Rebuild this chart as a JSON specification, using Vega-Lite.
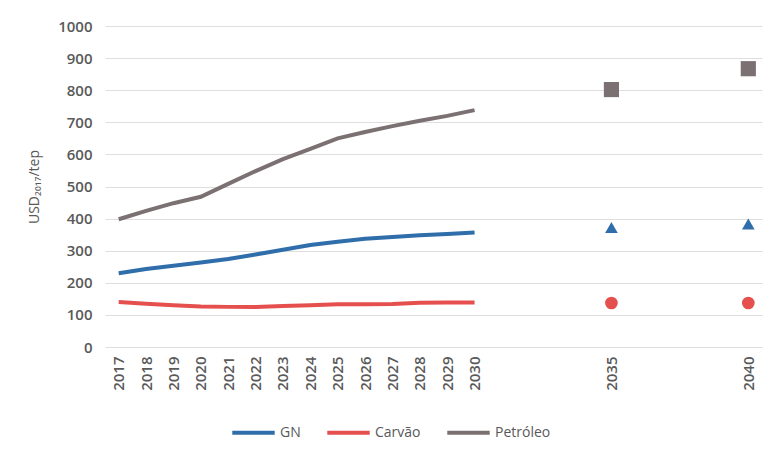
{
  "$schema": "https://vega.github.io/schema/vega-lite/v6.json",
  "width": 657,
  "height": 321,
  "autosize": "none",
  "padding": {"left": 105, "top": 26, "right": 13, "bottom": 109},
  "background": "white",
  "config": {
    "view": {"stroke": null},
    "font": "Open Sans",
    "axis": {"labelColor": "#595959", "titleColor": "#595959", "domain": false, "ticks": false, "gridColor": "#dedede", "gridWidth": 1}
  },
  "datasets": {
    "lines": [
      {"year": 2017, "series": "GN", "value": 230},
      {"year": 2018, "series": "GN", "value": 243},
      {"year": 2019, "series": "GN", "value": 253},
      {"year": 2020, "series": "GN", "value": 263},
      {"year": 2021, "series": "GN", "value": 274},
      {"year": 2022, "series": "GN", "value": 288},
      {"year": 2023, "series": "GN", "value": 303},
      {"year": 2024, "series": "GN", "value": 318},
      {"year": 2025, "series": "GN", "value": 328},
      {"year": 2026, "series": "GN", "value": 337},
      {"year": 2027, "series": "GN", "value": 343},
      {"year": 2028, "series": "GN", "value": 348},
      {"year": 2029, "series": "GN", "value": 352},
      {"year": 2030, "series": "GN", "value": 357},
      {"year": 2017, "series": "Carvão", "value": 140},
      {"year": 2018, "series": "Carvão", "value": 135},
      {"year": 2019, "series": "Carvão", "value": 130},
      {"year": 2020, "series": "Carvão", "value": 126},
      {"year": 2021, "series": "Carvão", "value": 125},
      {"year": 2022, "series": "Carvão", "value": 125},
      {"year": 2023, "series": "Carvão", "value": 128},
      {"year": 2024, "series": "Carvão", "value": 130},
      {"year": 2025, "series": "Carvão", "value": 133},
      {"year": 2026, "series": "Carvão", "value": 133},
      {"year": 2027, "series": "Carvão", "value": 134},
      {"year": 2028, "series": "Carvão", "value": 138},
      {"year": 2029, "series": "Carvão", "value": 139},
      {"year": 2030, "series": "Carvão", "value": 139},
      {"year": 2017, "series": "Petróleo", "value": 398},
      {"year": 2018, "series": "Petróleo", "value": 424},
      {"year": 2019, "series": "Petróleo", "value": 448},
      {"year": 2020, "series": "Petróleo", "value": 468},
      {"year": 2021, "series": "Petróleo", "value": 508},
      {"year": 2022, "series": "Petróleo", "value": 548},
      {"year": 2023, "series": "Petróleo", "value": 585},
      {"year": 2024, "series": "Petróleo", "value": 617},
      {"year": 2025, "series": "Petróleo", "value": 650},
      {"year": 2026, "series": "Petróleo", "value": 670},
      {"year": 2027, "series": "Petróleo", "value": 688},
      {"year": 2028, "series": "Petróleo", "value": 705},
      {"year": 2029, "series": "Petróleo", "value": 720},
      {"year": 2030, "series": "Petróleo", "value": 738}
    ],
    "points": [
      {"year": 2035, "series": "GN", "value": 372},
      {"year": 2040, "series": "GN", "value": 383},
      {"year": 2035, "series": "Carvão", "value": 137},
      {"year": 2040, "series": "Carvão", "value": 137},
      {"year": 2035, "series": "Petróleo", "value": 802},
      {"year": 2040, "series": "Petróleo", "value": 867}
    ]
  },
  "encoding": {
    "x": {
      "field": "year", "type": "quantitative",
      "scale": {"domain": [2016.5, 2040.5], "nice": false, "zero": false},
      "axis": {
        "title": null, "grid": false,
        "values": [2017, 2018, 2019, 2020, 2021, 2022, 2023, 2024, 2025, 2026, 2027, 2028, 2029, 2030, 2035, 2040],
        "format": "d", "labelAngle": -90, "labelFontSize": 15, "labelFontWeight": 600, "labelPadding": 9, "labelFlush": false, "labelOverlap": false
      }
    },
    "y": {
      "field": "value", "type": "quantitative",
      "scale": {"domain": [0, 1000], "nice": false},
      "axis": {
        "title": "USD₂₀₁₇/tep", "titleFontSize": 14, "titleFontWeight": "normal", "titlePadding": 16,
        "values": [0, 100, 200, 300, 400, 500, 600, 700, 800, 900, 1000],
        "format": "d", "labelOverlap": false, "labelFlush": false,
        "labelFontSize": 15, "labelFontWeight": 600, "labelPadding": 13, "grid": true
      }
    },
    "color": {
      "field": "series", "type": "nominal",
      "scale": {"domain": ["GN", "Carvão", "Petróleo"], "range": ["#2f6eaa", "#e5504f", "#7b7172"]},
      "legend": {
        "title": null, "orient": "none", "direction": "horizontal", "legendX": 125, "legendY": 383,
        "symbolType": "stroke", "symbolSize": 1800, "symbolStrokeWidth": 4, "labelFontSize": 14,
        "labelColor": "#595959", "labelOffset": 3, "columnPadding": 18
      }
    }
  },
  "layer": [
    {
      "data": {"name": "lines"},
      "mark": {"type": "line", "strokeWidth": 4}
    },
    {
      "data": {"name": "points"},
      "transform": [{"filter": "datum.series === 'GN'"}],
      "mark": {"type": "point", "shape": "triangle-up", "filled": true, "size": 160, "opacity": 1}
    },
    {
      "data": {"name": "points"},
      "transform": [{"filter": "datum.series === 'Carvão'"}],
      "mark": {"type": "point", "shape": "circle", "filled": true, "size": 160, "opacity": 1}
    },
    {
      "data": {"name": "points"},
      "transform": [{"filter": "datum.series === 'Petróleo'"}],
      "mark": {"type": "point", "shape": "square", "filled": true, "size": 230, "opacity": 1}
    }
  ]
}
